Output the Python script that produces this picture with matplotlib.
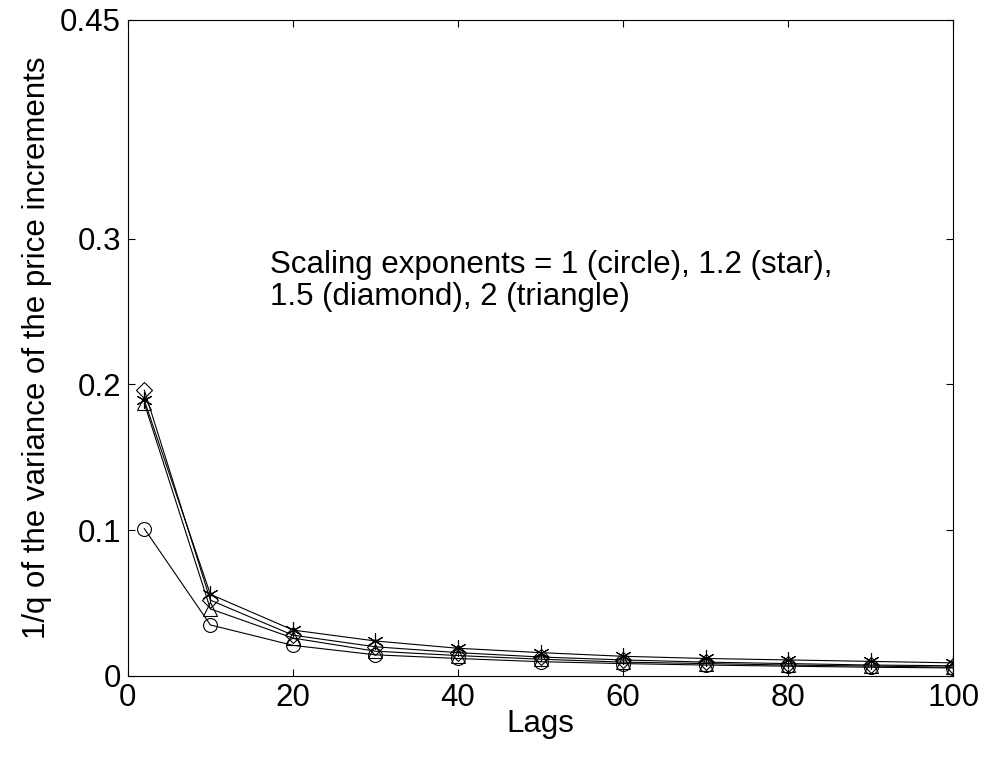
import matplotlib
matplotlib.use('Agg')
import matplotlib.pyplot as plt

# Lags and the four curves (scaling exponents 1, 1.2, 1.5, 2)
lags = [2, 10, 20, 30, 40, 50, 60, 70, 80, 90, 100]
circle = [0.101, 0.035, 0.021, 0.0145, 0.012, 0.0098, 0.0085, 0.0075, 0.0067, 0.006, 0.0055]
star = [0.189, 0.056, 0.0315, 0.024, 0.019, 0.016, 0.0135, 0.012, 0.011, 0.010, 0.009]
diamond = [0.196, 0.052, 0.028, 0.020, 0.016, 0.013, 0.011, 0.0095, 0.0085, 0.0075, 0.007]
triangle = [0.187, 0.046, 0.026, 0.017, 0.014, 0.0115, 0.0095, 0.0085, 0.0075, 0.0068, 0.006]

xticks = [0, 20, 40, 60, 80, 100]
yticks = [0, 0.1, 0.2, 0.3, 0.45]
ytick_labels = ['0', '0.1', '0.2', '0.3', '0.45']

plt.rcParams['font.family'] = ['Liberation Sans', 'DejaVu Sans']
fs = 22.5

fig = plt.figure(figsize=(9.91, 7.62), dpi=100)
ax = fig.add_axes([0.129, 0.1129, 0.833, 0.8609])

style = dict(color='black', linewidth=0.8, markerfacecolor='none',
             markeredgecolor='black', markeredgewidth=0.8)
ax.plot(lags, circle, marker='o', markersize=10, **style)
ax.plot(lags, star, marker=(6, 2, 0), markersize=12, **style)
ax.plot(lags, diamond, marker='D', markersize=8, **style)
ax.plot(lags, triangle, marker='^', markersize=10, **style)

ax.set_xlim(0, 100)
ax.set_ylim(0, 0.45)
ax.set_xticks(xticks)
ax.set_yticks(yticks)
ax.set_yticklabels(ytick_labels)
ax.tick_params(direction='in', top=True, right=True, length=5, width=0.8,
               labelsize=fs, pad=5)
for s in ax.spines.values():
    s.set_linewidth(0.8)

ax.set_xlabel('Lags', fontsize=fs, labelpad=-3)
ax.set_ylabel('1/q of the variance of the price increments', fontsize=fs, labelpad=6)

ax.text(17.2, 0.271, 'Scaling exponents = 1 (circle), 1.2 (star),\n1.5 (diamond), 2 (triangle)',
        fontsize=fs, ha='left', va='center', linespacing=1.1)

fig.savefig('out.png', dpi=100)
